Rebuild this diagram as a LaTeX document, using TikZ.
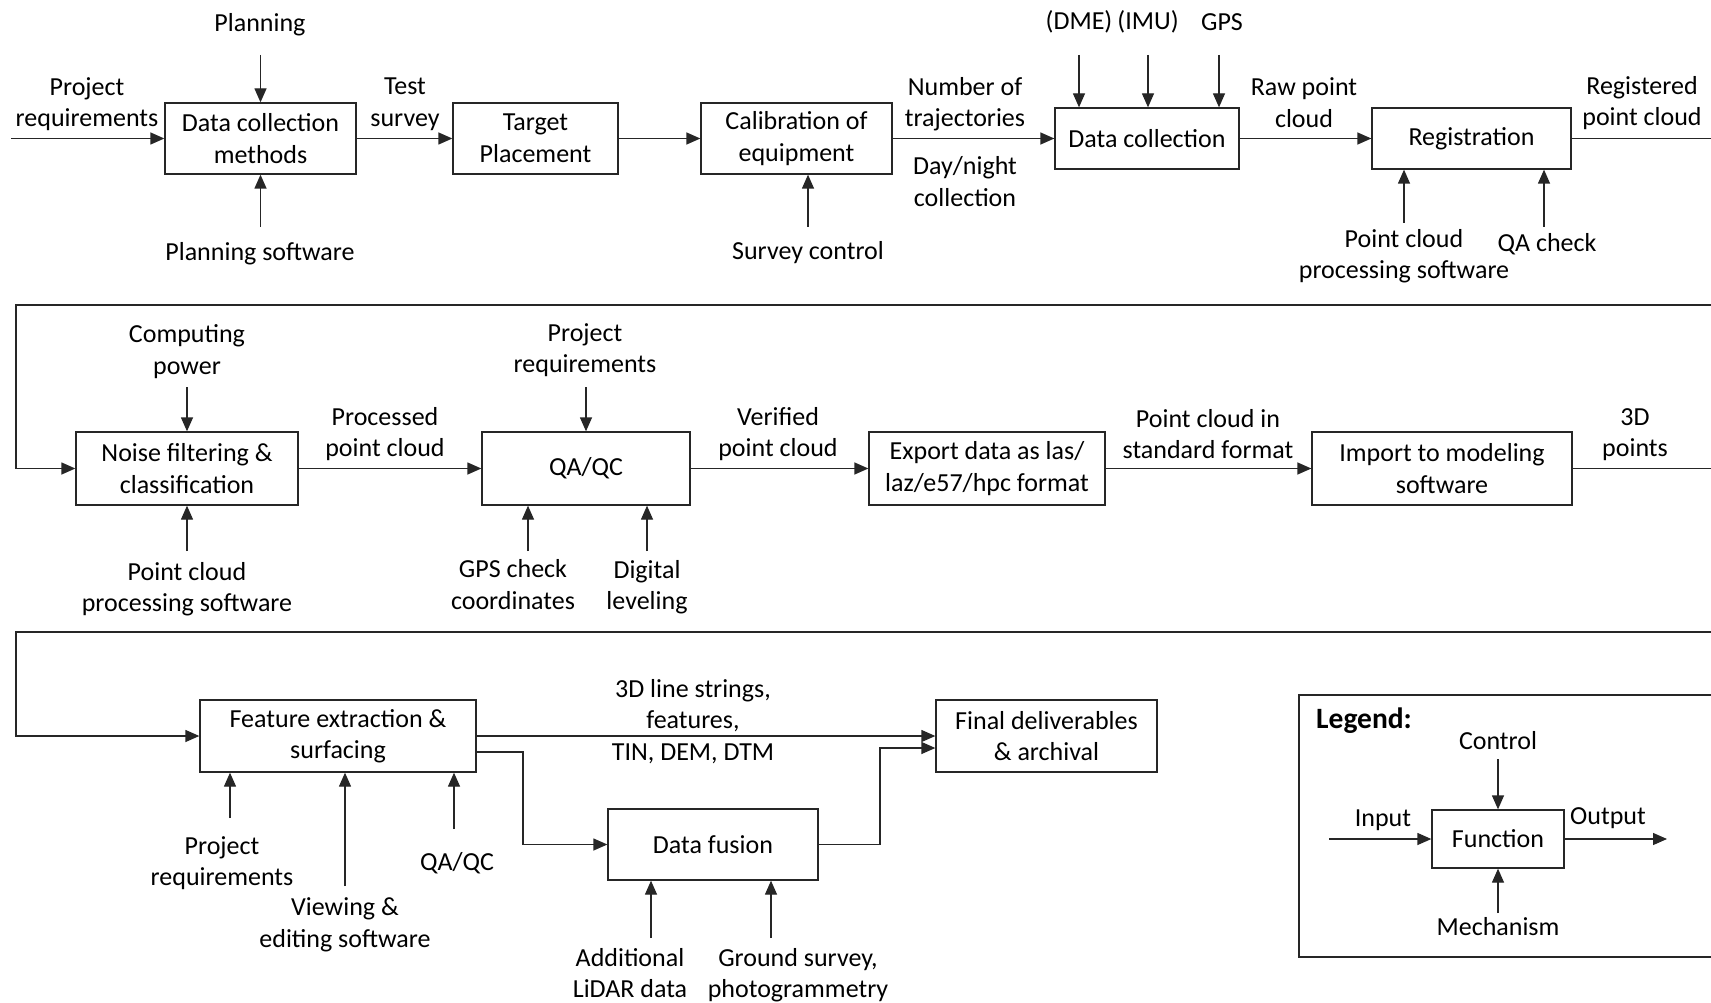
\documentclass[tikz,border=0pt]{standalone}
\usepackage{fontspec}
\setmainfont{Carlito}
\usetikzlibrary{arrows.meta}
\begin{document}
\begin{tikzpicture}[x=1pt,y=-1pt,
  every node/.style={font=\fontsize{26}{31.5}\selectfont, text=black},
  box/.style={draw=black!85, line width=1.3pt, align=center, inner sep=0pt},
  lbl/.style={align=center, inner sep=0pt},
  arr/.style={draw=black!85, line width=1.3pt, -{Triangle[length=14pt,width=12pt]}},
  ln/.style={draw=black!85, line width=1.3pt}]
\path[use as bounding box, clip] (0,0) rectangle (1711,1003);
\fill[white] (0,0) rectangle (1711,1003);

% ---------- Row 1 ----------
\node[box, minimum width=191pt, minimum height=71pt] (dcm) at (260.5,138.5) {Data collection\\methods};
\node[box, minimum width=165pt, minimum height=71pt] (tp) at (535.5,138.5) {Target\\Placement};
\node[box, minimum width=191pt, minimum height=71pt] (cal) at (796.5,138.5) {Calibration of\\equipment};
\node[box, minimum width=184pt, minimum height=61pt] (dc) at (1147,138.5) {Data collection};
\node[box, minimum width=199pt, minimum height=61pt] (reg) at (1471.5,138.5) {Registration};

\node[lbl] (pr1) at (87,104) {Project\\requirements};
\coordinate (in1) at (11,138.5);
\draw[arr] (in1) -- (dcm.west);
\draw[arr] (dcm) -- (tp);
\draw[arr] (tp) -- (cal);
\draw[arr] (cal) -- (dc);
\draw[arr] (dc) -- (reg);

\node[lbl] (plan) at (260,24.5) {Planning};
\draw[arr] (260.5,55) -- (dcm.north);
\node[lbl] (psw) at (260,254) {Planning software};
\draw[arr] (260.5,227) -- (dcm.south);
\node[lbl] (ts) at (405,104.5) {Test\\survey};
\node[lbl] (sc) at (808,253) {Survey control};
\draw[arr] (808,227) -- (808,0 |- cal.south);
\node[lbl] (nt) at (965,104) {Number of\\trajectories};
\node[lbl] (dn) at (965,181.5) {Day/night\\collection};
\node[lbl] (dme) at (1079,22) {(DME)};
\node[lbl] (imu) at (1148,22) {(IMU)};
\node[lbl] (gps) at (1222,22) {GPS};
\draw[arr] (1079,55) -- (1079,0 |- dc.north);
\draw[arr] (1148,55) -- (1148,0 |- dc.north);
\draw[arr] (1219,55) -- (1219,0 |- dc.north);
\node[lbl] (rpc) at (1304,102.5) {Raw point\\cloud};
\node[lbl] (pcps) at (1404,256) {Point cloud\\processing software};
\draw[arr] (1404,223) -- (1404,0 |- reg.south);
\node[lbl] (qac) at (1547,244) {QA check};
\draw[arr] (1544,227) -- (1544,0 |- reg.south);
\node[lbl] (rgpc) at (1642,103) {Registered\\point cloud};

% ---------- Row 2 ----------
\node[box, minimum width=222pt, minimum height=73pt] (nf) at (187,468.5) {Noise filtering \&\\classification};
\node[box, minimum width=208pt, minimum height=73pt] (qa) at (586,468.5) {QA/QC};
\node[box, minimum width=236pt, minimum height=73pt] (exp) at (987,468.5) {Export data as las/\\laz/e57/hpc format};
\node[box, minimum width=260pt, minimum height=73pt] (imp) at (1442,468.5) {Import to modeling\\software};

\draw[arr] (reg.east) -- ++(200,0) |- (16,305) |- (nf.west);
\draw[arr] (nf) -- (qa);
\draw[arr] (qa) -- (exp);
\draw[arr] (exp) -- (imp);

\node[lbl] (cp) at (187,351.5) {Computing\\power};
\draw[arr] (187,387) -- (nf.north);
\node[lbl] (pcps2) at (187,589) {Point cloud\\processing software};
\draw[arr] (187,551) -- (nf.south);
\node[lbl] (proc) at (385,434) {Processed\\point cloud};
\node[lbl] (prj2) at (585,350) {Project\\requirements};
\draw[arr] (586,387) -- (qa.north);
\node[lbl] (gpsc) at (513,584.5) {GPS check\\coordinates};
\draw[arr] (528,551) -- (528,0 |- qa.south);
\node[lbl] (dl) at (647,587) {Digital\\leveling};
\draw[arr] (647,551) -- (647,0 |- qa.south);
\node[lbl] (vpc) at (778,434) {Verified\\point cloud};
\node[lbl] (pcsf) at (1208,434) {Point cloud in\\standard format};
\node[lbl] (tdp) at (1635,434.5) {3D\\points};

% ---------- Row 3 ----------
\node[box, minimum width=276pt, minimum height=72pt] (fe) at (338,736) {Feature extraction \&\\surfacing};
\node[box, minimum width=221pt, minimum height=72pt] (fd) at (1046.5,736) {Final deliverables\\\& archival};
\node[box, minimum width=210pt, minimum height=71pt] (df) at (713,844.5) {Data fusion};

\draw[arr] (imp.east) -- ++(200,0) |- (16,632) |- (fe.west);
\draw[arr] (fe) -- (fd);
\draw[arr] ([yshift=-16pt]fe.east) -| (523,844.5) -- (df.west);
\draw[arr] (df.east) -| (880,748) -- ([yshift=-12pt]fd.west);

\node[lbl] (ls) at (693,721.5) {3D line strings,\\features,\\TIN, DEM, DTM};
\node[lbl] (prj3) at (222,863) {Project\\requirements};
\draw[arr] (230,818) -- (230,0 |- fe.south);
\node[lbl] (ves) at (345,925) {Viewing \&\\editing software};
\draw[arr] (345,886) -- (345,0 |- fe.south);
\node[lbl] (qaqc2) at (457,863) {QA/QC};
\draw[arr] (454,829) -- (454,0 |- fe.south);
\node[lbl] (ald) at (630,973) {Additional\\LiDAR data};
\draw[arr] (651,938) -- (651,0 |- df.south);
\node[lbl] (gsp) at (798,975) {Ground survey,\\photogrammetry};
\draw[arr] (771,938) -- (771,0 |- df.south);

% ---------- Legend ----------
\draw[ln] (1299,695) rectangle (1760,957);
\node[anchor=west, inner sep=0pt, font=\bfseries\fontsize{29.5}{34}\selectfont] (lg) at (1316,721) {Legend:};
\node[box, minimum width=132pt, minimum height=58pt] (fn) at (1498,839) {Function};
\node[lbl] (ctl) at (1498,741) {Control};
\draw[arr] (1498,759) -- (fn.north);
\node[lbl] (inp) at (1383,820) {Input};
\draw[arr] (1329,839) -- (fn.west);
\node[lbl] (outp) at (1608,818) {Output};
\coordinate (outend) at (1667,839);
\draw[arr] (fn.east) -- (outend);
\node[lbl] (mech) at (1498,927) {Mechanism};
\draw[arr] (1498,913) -- (fn.south);
\end{tikzpicture}
\end{document}
